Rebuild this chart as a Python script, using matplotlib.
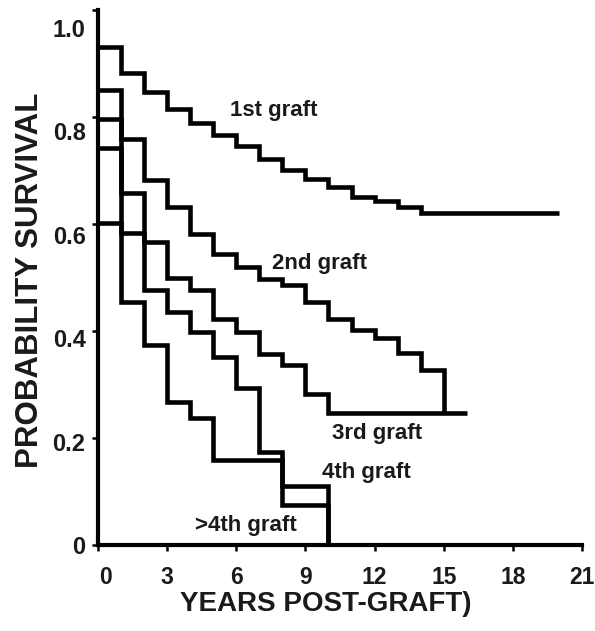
import matplotlib
matplotlib.use("Agg")
import matplotlib.pyplot as plt
from matplotlib.transforms import ScaledTranslation

# ---- data ----
g1_years = [0, 1, 2, 3, 4, 5, 6, 7, 8, 9, 10, 11, 12, 13, 14, 20]
g1_surv = [0.93, 0.882, 0.846, 0.815, 0.789, 0.766, 0.745, 0.722, 0.701,
           0.684, 0.669, 0.650, 0.643, 0.632, 0.621, 0.621]

g2_years = [0, 1, 2, 3, 4, 5, 6, 7, 8, 9, 10, 11, 12, 13, 14, 15]
g2_surv = [0.85, 0.759, 0.682, 0.632, 0.581, 0.543, 0.520, 0.498, 0.486,
           0.454, 0.422, 0.402, 0.387, 0.359, 0.327, 0.246]

g3_years = [0, 1, 2, 3, 4, 5, 6, 7, 8, 9, 10, 16]
g3_surv = [0.796, 0.658, 0.566, 0.500, 0.477, 0.422, 0.398, 0.357, 0.336,
           0.282, 0.246, 0.246]

g4_years = [0, 1, 2, 3, 4, 5, 6, 7, 8, 10]
g4_surv = [0.742, 0.583, 0.477, 0.436, 0.398, 0.351, 0.293, 0.174, 0.110, 0.0]

g5_years = [0, 1, 2, 3, 4, 5, 8, 10]
g5_surv = [0.602, 0.454, 0.374, 0.267, 0.238, 0.159, 0.075, 0.0]

curve_labels = ["1st graft", "2nd graft", "3rd graft", "4th graft", ">4th graft"]
x_ticks = [0, 3, 6, 9, 12, 15, 18, 21]
y_ticks = [0, 0.2, 0.4, 0.6, 0.8, 1.0]
y_tick_labels = ["0", "0.2", "0.4", "0.6", "0.8", "1.0"]

# ---- figure ----
plt.rcParams['font.family'] = ['Liberation Sans', 'DejaVu Sans']
plt.rcParams['font.weight'] = 'bold'
TXT = '#1a1a1a'

fig = plt.figure(figsize=(5.95, 6.31), dpi=100)
ax = fig.add_axes([98/595, 86/631, 484/595, 535/631])

series = [(g1_years, g1_surv), (g2_years, g2_surv), (g3_years, g3_surv),
          (g4_years, g4_surv), (g5_years, g5_surv)]
for (xs, ys) in series:
    ax.step(xs, ys, where='post', color='black', lw=3.3,
            solid_joinstyle='miter', solid_capstyle='butt', clip_on=False)

ax.set_xlim(0, 21)
ax.set_ylim(0, 1.0)

for s in ['top', 'right']:
    ax.spines[s].set_visible(False)
for s in ['left', 'bottom']:
    ax.spines[s].set_linewidth(3.0)
    ax.spines[s].set_color('black')

ax.set_xticks(x_ticks)
ax.set_xticklabels([str(t) for t in x_ticks])
ax.set_yticks(y_ticks)
ax.set_yticklabels(y_tick_labels)
ax.tick_params(axis='x', length=4, width=1.8, pad=11, labelsize=16.5, labelcolor=TXT)
ax.tick_params(axis='y', length=4, width=1.8, pad=5, labelsize=17, labelcolor=TXT)

# reference tick labels on y sit slightly below their ticks
for lab, v in zip(ax.get_yticklabels(), y_ticks):
    lab.set_transform(lab.get_transform() +
                      ScaledTranslation(0, -v * 0.18, fig.dpi_scale_trans))
xl = ax.get_xticklabels()
xl[0].set_transform(xl[0].get_transform() +
                    ScaledTranslation(0.08, 0, fig.dpi_scale_trans))

# curve labels
label_pos = [(5.73, 0.813), (7.55, 0.527), (10.15, 0.209), (9.72, 0.135), (4.21, 0.037)]
for txt, (px, py) in zip(curve_labels, label_pos):
    ax.text(px, py, txt, ha='left', va='center', fontsize=16, color=TXT,
            fontweight='bold')

fig.text(326/595, 1 - 604/631, "YEARS POST-GRAFT)", ha='center', va='center',
         fontsize=20, fontweight='bold', color=TXT)
fig.text(30/595, 1 - 280/631, "PROBABILITY SURVIVAL", ha='center', va='center',
         rotation=90, fontsize=22.5, fontweight='bold', color=TXT)

fig.savefig("out.png", dpi=100)
